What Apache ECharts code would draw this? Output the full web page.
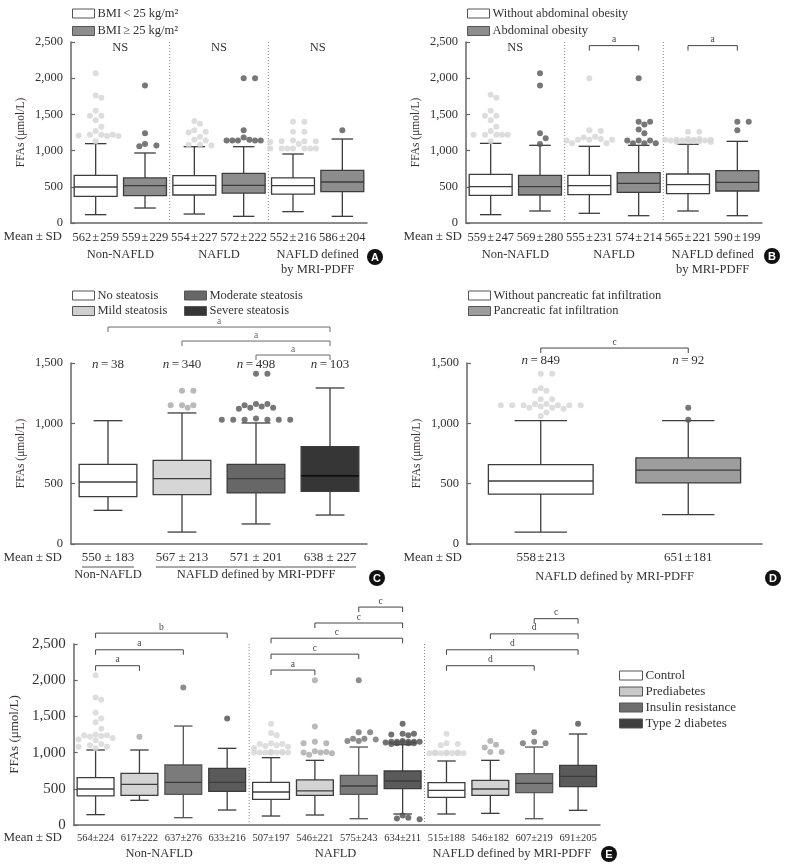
<!DOCTYPE html>
<html><head><meta charset="utf-8">
<script src="https://cdn.jsdelivr.net/npm/echarts/dist/echarts.min.js"></script>
<style>html,body{margin:0;padding:0;background:#fff}#c{width:793px;height:868px}</style>
</head><body><div id="c"></div>
<script>
// ================= DATA =================
// Box summaries: [lower whisker, Q1, median, Q3, upper whisker] per group (µmol/L)

// ---- Panel A: BMI ----
const A_groups = ['Non-NAFLD', 'NAFLD', 'NAFLD defined\nby MRI-PDFF'];
const A_names = ['BMI\u2009<\u200925 kg/m²', 'BMI\u2009≥\u200925 kg/m²'];
const A_meanSD = ['562\u200a±\u200a259', '559\u200a±\u200a229', '554\u200a±\u200a227', '572\u200a±\u200a222', '552\u200a±\u200a216', '586\u200a±\u200a204'];
const A_box_lean = [[115, 368, 497, 658, 1096], [124, 387, 520, 654, 1054], [157, 400, 516, 622, 953]];
const A_box_over = [[207, 378, 516, 622, 967], [92, 414, 520, 686, 1054], [92, 433, 566, 727, 1160]];
const A_out_lean = [
  [2070, 1760, 1730, 1550, 1480, 1480, 1420, 1330, 1270, 1220, 1220, 1220, 1210, 1200, 1200, 1130],
  [1410, 1370, 1280, 1260, 1250, 1190, 1150, 1140, 1080, 1070, 1080],
  [1400, 1400, 1260, 1260, 1140, 1130, 1130, 1130, 1120, 1090, 1030, 1030, 1030, 1030, 1030, 1030, 1030]
];
const A_out_over = [[1900, 1240, 1090, 1070, 1060], [2000, 2000, 1280, 1180, 1140, 1140, 1140, 1140, 1140, 1150], [1280]];
const A_sig = ['NS', 'NS', 'NS'];
const A_sigY = 2420;

// ---- Panel B: abdominal obesity ----
const B_groups = ['Non-NAFLD', 'NAFLD', 'NAFLD defined\nby MRI-PDFF'];
const B_names = ['Without abdominal obesity', 'Abdominal obesity'];
const B_meanSD = ['559\u200a±\u200a247', '569\u200a±\u200a280', '555\u200a±\u200a231', '574\u200a±\u200a214', '565\u200a±\u200a221', '590\u200a±\u200a199'];
const B_box_without = [[115, 382, 502, 672, 1100], [134, 391, 516, 658, 1059], [166, 405, 530, 677, 1087]];
const B_box_with = [[166, 387, 502, 658, 1073], [101, 424, 548, 695, 1073], [101, 442, 562, 723, 1128]];
const B_out_without = [
  [1770, 1730, 1550, 1480, 1480, 1420, 1330, 1270, 1220, 1220, 1220, 1220, 1220, 1130],
  [2000, 1280, 1270, 1190, 1180, 1160, 1150, 1150, 1150, 1140, 1100, 1100],
  [1260, 1260, 1160, 1150, 1150, 1150, 1140, 1140, 1140, 1130, 1130, 1130, 1120, 1120, 1150, 1160]
];
const B_out_with = [[2070, 1900, 1240, 1170, 1090], [2000, 1400, 1400, 1360, 1290, 1240, 1140, 1140, 1140, 1100, 1100, 1100], [1400, 1400, 1280]];
const B_sig = ['NS', null, null];
const B_sigY = 2420;
const B_brackets = [[2, 3, 'a', 2450], [4, 5, 'a', 2450]];

// ---- Panel C: steatosis grade ----
const C_names = ['No steatosis', 'Mild steatosis', 'Moderate steatosis', 'Severe steatosis'];
const C_meanSD = ['550 ± 183', '567 ± 213', '571 ± 201', '638 ± 227'];
const C_n = [38, 340, 498, 103];
const C_box = [[279, 392, 514, 660, 1022], [99, 409, 541, 693, 1086], [166, 423, 541, 660, 1003], [240, 436, 564, 807, 1293]];
const C_out = [[], [1270, 1270, 1150, 1150, 1150, 1130], [1410, 1410, 1160, 1150, 1140, 1130, 1120, 1130, 1160, 1030, 1030, 1030, 1030, 1030, 1030, 1040], []];
const C_groupLabels = [['Non-NAFLD', 0, 0], ['NAFLD defined by MRI-PDFF', 1, 3]];
const C_brackets = [[0, 3, 'a', 1798], [1, 3, 'a', 1682], [2, 3, 'a', 1566]];

// ---- Panel D: pancreatic fat ----
const D_names = ['Without pancreatic fat infiltration', 'Pancreatic fat infiltration'];
const D_meanSD = ['558\u200a±\u200a213', '651\u200a±\u200a181'];
const D_n = [849, 92];
const D_box = [[99, 414, 522, 657, 1022], [243, 506, 613, 713, 1022]];
const D_out = [[1410, 1410, 1290, 1270, 1270, 1200, 1200, 1160, 1160, 1150, 1150, 1150, 1150, 1150, 1150, 1140, 1130, 1130, 1120, 1090, 1060], [1130, 1030]];
const D_group = 'NAFLD defined by MRI-PDFF';
const D_brackets = [[0, 1, 'c', 1624]];

// ---- Panel E: glycemic status ----
const E_groups = ['Non-NAFLD', 'NAFLD', 'NAFLD defined by MRI-PDFF'];
const E_names = ['Control', 'Prediabetes', 'Insulin resistance', 'Type 2 diabetes'];
const E_meanSD = ['564±224', '617±222', '637±276', '633±216', '507±197', '546±221', '575±243', '634±211', '515±188', '546±182', '607±219', '691±205'];
const E_box_control = [[143, 401, 497, 654, 1036], [124, 355, 456, 589, 930], [152, 382, 479, 585, 884]];
const E_box_pre = [[341, 410, 562, 714, 1036], [138, 410, 470, 622, 893], [161, 410, 497, 617, 893]];
const E_box_ir = [[101, 424, 589, 829, 1367], [87, 424, 539, 686, 1077], [87, 447, 576, 709, 1077]];
const E_box_t2d = [[207, 465, 589, 783, 1059], [152, 502, 608, 746, 1110], [203, 530, 672, 824, 1257]];
const E_out_control = [
  [2070, 1760, 1730, 1550, 1470, 1420, 1330, 1250, 1240, 1240, 1230, 1220, 1200, 1180, 1170, 1120, 1100, 1080, 1080, 1060],
  [1400, 1270, 1240, 1130, 1120, 1120, 1100, 1090, 1080, 1060, 1010, 1010, 1000, 1000, 1000, 1000, 1000, 1000, 1000, 1000],
  [1260, 1130, 1120, 1100, 1000, 1000, 995, 990, 990, 990, 990, 990, 990, 1000]
];
const E_out_pre = [[1220], [2000, 1360, 1150, 1130, 1130, 1020, 1010, 1000, 1000, 990, 970], [1160, 1110, 1070, 1010, 1010]];
const E_out_ir = [[1900], [2000, 1280, 1280, 1190, 1190, 1180, 1160, 1160], [1280, 1130, 1130, 1150]];
const E_out_t2d = [[1470], [1400, 1260, 1260, 1250, 1240, 1160, 1150, 1150, 1150, 1150, 1150, 1140, 1140, 1130, 1130, 1130, 1120, 130, 100, 90, 80], [1400]];
const E_brackets = [
  [0, 3, 'b', 2650], [0, 2, 'a', 2420], [0, 1, 'a', 2200],
  [4, 5, 'a', 2140], [4, 6, 'c', 2360], [4, 7, 'c', 2580], [5, 7, 'c', 2790], [6, 7, 'c', 3010],
  [8, 10, 'd', 2200], [8, 11, 'd', 2420], [9, 11, 'd', 2640], [10, 11, 'c', 2850]
];

// ================= STYLE / LAYOUT =================
const FONT = "'Liberation Serif','DejaVu Serif',serif";
const TX = '#333', AX = '#666', LINE = '#3c3c3c';

const panels = [
  { letter: 'A', grid: { left: 71, top: 42, width: 296, height: 181 }, yMax: 2500, nS: 2, nG: 3,
    cats: A_meanSD, catFont: 12.5, catMargin: 8, yFont: 12.5, nameFont: 11.5, nameGap: 44, boxRatio: 0.87,
    series: [
      { name: A_names[0], fill: '#ffffff', out: '#d4d4d4', boxes: A_box_lean, outliers: A_out_lean },
      { name: A_names[1], fill: '#8d8d8d', out: '#555555', boxes: A_box_over, outliers: A_out_over }],
    sig: A_sig, sigY: A_sigY, brackets: [], brColor: '#444',
    legends: [{ left: 72, top: 7, names: A_names, fills: ['#ffffff', '#8d8d8d'], gap: 4.5, font: 12.5 }],
    groupLabels: A_groups.map((t, g) => [t, g * 2, g * 2 + 1]), groupY: 255,
    meanSD: [62, 237], letterPos: [375, 257] },
  { letter: 'B', grid: { left: 466, top: 42, width: 296, height: 181 }, yMax: 2500, nS: 2, nG: 3,
    cats: B_meanSD, catFont: 12.5, catMargin: 8, yFont: 12.5, nameFont: 11.5, nameGap: 44, boxRatio: 0.87,
    series: [
      { name: B_names[0], fill: '#ffffff', out: '#d4d4d4', boxes: B_box_without, outliers: B_out_without },
      { name: B_names[1], fill: '#8d8d8d', out: '#555555', boxes: B_box_with, outliers: B_out_with }],
    sig: B_sig, sigY: B_sigY, brackets: B_brackets, brColor: '#444',
    legends: [{ left: 467, top: 7, names: B_names, fills: ['#ffffff', '#8d8d8d'], gap: 4.5, font: 12.5 }],
    groupLabels: B_groups.map((t, g) => [t, g * 2, g * 2 + 1]), groupY: 255,
    meanSD: [462, 237], letterPos: [772, 256] },
  { letter: 'C', grid: { left: 71, top: 363, width: 296, height: 181 }, yMax: 1500, nS: 4, nG: 1,
    cats: C_meanSD, catFont: 13, catMargin: 7.5, yFont: 12.5, nameFont: 11.5, nameGap: 44, boxRatio: 0.78,
    series: [
      { name: C_names[0], fill: '#ffffff', out: '#d4d4d4', boxes: [C_box[0]], outliers: [C_out[0]] },
      { name: C_names[1], fill: '#d6d6d6', out: '#a8a8a8', boxes: [C_box[1]], outliers: [C_out[1]] },
      { name: C_names[2], fill: '#676767', out: '#555555', boxes: [C_box[2]], outliers: [C_out[2]] },
      { name: C_names[3], fill: '#363636', out: '#333333', boxes: [C_box[3]], outliers: [C_out[3]], med: '#000' }],
    counts: C_n, countY: 1483, brackets: C_brackets, brColor: '#6a6a6a',
    legends: [
      { left: 72, top: 289, names: [C_names[0], C_names[1]], fills: ['#ffffff', '#cfcfcf'], gap: 2.5, font: 12.5 },
      { left: 184, top: 289, names: [C_names[2], C_names[3]], fills: ['#676767', '#363636'], gap: 2.5, font: 12.5 }],
    groupLabels: C_groupLabels, groupY: 575, underline: 567,
    meanSD: [62, 558], letterPos: [377, 578] },
  { letter: 'D', grid: { left: 467, top: 363, width: 295, height: 181 }, yMax: 1500, nS: 2, nG: 1,
    cats: D_meanSD, catFont: 13, catMargin: 7.5, yFont: 12.5, nameFont: 11.5, nameGap: 44, boxRatio: 0.71,
    series: [
      { name: D_names[0], fill: '#ffffff', out: '#d4d4d4', boxes: [D_box[0]], outliers: [D_out[0]] },
      { name: D_names[1], fill: '#9d9d9d', out: '#555555', boxes: [D_box[1]], outliers: [D_out[1]] }],
    counts: D_n, countY: 1516, brackets: D_brackets, brColor: '#444',
    legends: [{ left: 468, top: 289, names: D_names, fills: ['#ffffff', '#9d9d9d'], gap: 2.5, font: 12.5 }],
    groupLabels: [[D_group, 0, 1]], groupY: 577,
    meanSD: [462, 558], letterPos: [773, 578] },
  { letter: 'E', grid: { left: 71, top: 644, width: 529, height: 181 }, yMax: 2500, nS: 4, nG: 3,
    cats: E_meanSD, catFont: 10.5, catMargin: 7.5, yFont: 15, nameFont: 13, nameGap: 45, boxRatio: 0.84,
    series: [
      { name: E_names[0], fill: '#ffffff', out: '#d6d6d6', boxes: E_box_control, outliers: E_out_control },
      { name: E_names[1], fill: '#d3d3d3', out: '#a8a8a8', boxes: E_box_pre, outliers: E_out_pre },
      { name: E_names[2], fill: '#7b7b7b', out: '#707070', boxes: E_box_ir, outliers: E_out_ir, line: '#555' },
      { name: E_names[3], fill: '#5a5a5a', out: '#4d4d4d', boxes: E_box_t2d, outliers: E_out_t2d }],
    brackets: E_brackets, brColor: '#444',
    legends: [{ left: 619, top: 669, names: E_names, fills: ['#ffffff', '#c9c9c9', '#6e6e6e', '#3f3f3f'], gap: 3, font: 13, w: 23, h: 9 }],
    groupLabels: E_groups.map((t, g) => [t, g * 4, g * 4 + 3]), groupY: 854,
    meanSD: [62, 838], letterPos: [609, 854] }
];

// ================= BUILD =================
const grids = [], xAxes = [], yAxes = [], series = [], legends = [], graphic = [];

// deterministic beeswarm layout of outlier dots (pixel space), limited to the category band
function swarm(values, center, pxY, pxC, d) {
  const placed = [], res = [];
  const rx = d * 1.0, ry = d * 1.1, lim = pxC * 0.5;
  values.slice().sort((a, b) => b - a).forEach(v => {
    const py = v * pxY;
    let best = 0, bestScore = -1;
    for (let t = 0; t < 80; t++) {
      const cand = t === 0 ? 0 : (t % 2 ? 1 : -1) * Math.ceil(t / 2) * d * 0.95;
      if (Math.abs(cand) > lim) break;
      let mn = Infinity;
      placed.forEach(p => { mn = Math.min(mn, ((p[0] - cand) / rx) ** 2 + ((p[1] - py) / ry) ** 2); });
      if (mn >= 1) { best = cand; bestScore = Infinity; break; }
      if (mn > bestScore) { bestScore = mn; best = cand; }
    }
    placed.push([best, py]);
    res.push([center + best / pxC, v]);
  });
  return res;
}

function boxRenderer(ratio, fill, line, med) {
  return function (params, api) {
    const x = api.value(0);
    const P = [1, 2, 3, 4, 5].map(d => api.coord([x, api.value(d)]));
    const cx = P[0][0];
    const bw = api.size([1, 0])[0] * ratio, cw = bw * 0.5;
    const [lo, q1, md, q3, hi] = P.map(p => p[1]);
    const ls = { stroke: line, lineWidth: 1.3 };
    return { type: 'group', children: [
      { type: 'line', shape: { x1: cx, y1: lo, x2: cx, y2: q1 }, style: ls },
      { type: 'line', shape: { x1: cx, y1: q3, x2: cx, y2: hi }, style: ls },
      { type: 'line', shape: { x1: cx - cw / 2, y1: lo, x2: cx + cw / 2, y2: lo }, style: ls },
      { type: 'line', shape: { x1: cx - cw / 2, y1: hi, x2: cx + cw / 2, y2: hi }, style: ls },
      { type: 'rect', shape: { x: cx - bw / 2, y: q3, width: bw, height: q1 - q3 }, style: { fill: fill, stroke: line, lineWidth: 1.3 } },
      { type: 'line', shape: { x1: cx - bw / 2, y1: md, x2: cx + bw / 2, y2: md }, style: { stroke: med, lineWidth: 1.3 } }
    ] };
  };
}

panels.forEach((p, i) => {
  const nC = p.cats.length;
  const catX = k => p.grid.left + p.grid.width * (k + 0.5) / nC;
  grids.push({ left: p.grid.left, top: p.grid.top, width: p.grid.width, height: p.grid.height });
  xAxes.push({ type: 'category', gridIndex: i, data: p.cats,
    axisLine: { onZero: false, lineStyle: { color: AX, width: 1.5 } },
    axisTick: { alignWithLabel: true, inside: true, length: 4, lineStyle: { color: AX, width: 1.2 } },
    axisLabel: { interval: 0, margin: p.catMargin, fontFamily: FONT, fontSize: p.catFont, color: TX },
    splitLine: { show: false } });
  xAxes.push({ type: 'value', gridIndex: i, min: -0.5, max: nC - 0.5, show: false,
    axisLine: { show: false, onZero: false }, axisTick: { show: false }, axisLabel: { show: false }, splitLine: { show: false } });
  yAxes.push({ type: 'value', gridIndex: i, min: 0, max: p.yMax, interval: 500,
    axisLine: { show: true, onZero: false, lineStyle: { color: AX, width: 1.5 } },
    axisTick: { show: true, inside: true, length: 4, lineStyle: { color: AX, width: 1.2 } },
    splitLine: { show: false },
    axisLabel: { fontFamily: FONT, fontSize: p.yFont, color: TX, margin: 8, formatter: v => v.toLocaleString('en-US') },
    name: 'FFAs (μmol/L)', nameLocation: 'middle', nameGap: p.nameGap,
    nameTextStyle: { fontFamily: FONT, fontSize: p.nameFont, color: '#3a3030' } });
  const cxi = 2 * i, vxi = 2 * i + 1;
  const pxY = p.grid.height / p.yMax, pxC = p.grid.width / nC;

  p.series.forEach((s, si) => {
    series.push({ type: 'custom', name: s.name, xAxisIndex: cxi, yAxisIndex: i, itemStyle: { color: s.fill },
      encode: { x: 0, y: [1, 2, 3, 4, 5] }, z: 3,
      data: s.boxes.map((b, g) => [g * p.nS + si].concat(b)),
      renderItem: boxRenderer(p.boxRatio, s.fill, s.line || LINE, s.med || LINE) });
    let pts = [];
    s.outliers.forEach((vals, g) => { pts = pts.concat(swarm(vals, g * p.nS + si, pxY, pxC, 6)); });
    if (pts.length) series.push({ type: 'scatter', name: s.name + ' outliers', xAxisIndex: vxi, yAxisIndex: i,
      data: pts, symbolSize: 6, itemStyle: { color: s.out }, z: 4 });
  });

  // dotted separators between groups
  const seps = [];
  for (let g = 1; g < p.nG; g++) seps.push([g * p.nS - 0.5]);
  if (seps.length) series.push({ type: 'custom', name: 'sep' + p.letter, xAxisIndex: vxi, yAxisIndex: i, silent: true, data: seps,
    renderItem: (params, api) => {
      const a = api.coord([api.value(0), 0]), b = api.coord([api.value(0), p.yMax]);
      return { type: 'line', shape: { x1: a[0], y1: a[1], x2: b[0], y2: b[1] }, style: { stroke: '#8a8a8a', lineWidth: 1, lineDash: [1, 2] } };
    } });

  // significance text (NS)
  if (p.sig) {
    const d = [], txt = [];
    p.sig.forEach((t, g) => { if (t) { d.push([g * p.nS + (p.nS - 1) / 2, p.sigY]); txt.push(t); } });
    series.push({ type: 'custom', name: 'sig' + p.letter, xAxisIndex: vxi, yAxisIndex: i, silent: true, data: d,
      renderItem: (params, api) => {
        const c = api.coord([api.value(0), api.value(1)]);
        return { type: 'text', x: c[0], y: c[1], style: { text: txt[params.dataIndex], font: '12.5px ' + FONT, fill: TX, align: 'center', verticalAlign: 'middle' } };
      } });
  }
  // brackets
  if (p.brackets && p.brackets.length) {
    series.push({ type: 'custom', name: 'br' + p.letter, xAxisIndex: vxi, yAxisIndex: i, silent: true,
      data: p.brackets.map(b => [b[0], b[1], b[3]]),
      renderItem: (params, api) => {
        const a = api.coord([api.value(0), api.value(2)]), b = api.coord([api.value(1), api.value(2)]);
        const tk = 5;
        return { type: 'group', children: [
          { type: 'polyline', shape: { points: [[a[0], a[1] + tk], [a[0], a[1]], [b[0], a[1]], [b[0], a[1] + tk]] }, style: { stroke: p.brColor, lineWidth: 1, fill: null } },
          { type: 'text', x: (a[0] + b[0]) / 2, y: a[1] - 1, style: { text: p.brackets[params.dataIndex][2], font: '9.5px ' + FONT, fill: p.brColor, align: 'center', verticalAlign: 'bottom' } }
        ] };
      } });
  }
  // n counts
  if (p.counts) {
    series.push({ type: 'custom', name: 'n' + p.letter, xAxisIndex: cxi, yAxisIndex: i, silent: true,
      data: p.counts.map((n, k) => [k, p.countY]),
      renderItem: (params, api) => {
        const c = api.coord([api.value(0), api.value(1)]);
        return { type: 'text', x: c[0], y: c[1], style: { text: '{i|n}\u2009=\u2009' + p.counts[params.dataIndex],
          rich: { i: { fontStyle: 'italic', fontFamily: FONT, fontSize: 13, fill: TX } },
          font: '13px ' + FONT, fill: TX, align: 'center', verticalAlign: 'middle' } };
      } });
  }
  // legends
  p.legends.forEach(L => {
    legends.push({ left: L.left, top: L.top, orient: 'vertical', icon: 'rect', itemWidth: L.w || 22, itemHeight: L.h || 9,
      itemGap: L.gap, selectedMode: false, padding: 0,
      textStyle: { fontFamily: FONT, fontSize: L.font, color: TX, padding: [0, 0, 0, -2] },
      data: L.names.map((n, k) => ({ name: n, itemStyle: { color: L.fills[k], borderColor: '#555', borderWidth: 1 } })) });
  });
  // group labels
  p.groupLabels.forEach(gl => {
    const x = (catX(gl[1]) + catX(gl[2])) / 2;
    const lines = gl[0].split('\n');
    lines.forEach((ln, li) => graphic.push({ type: 'text', x: x, y: p.groupY + li * 15,
      style: { text: ln, font: '12.5px ' + FONT, fill: TX, align: 'center', verticalAlign: 'middle', textAlign: 'center', textVerticalAlign: 'middle' } }));
    if (p.underline) graphic.push({ type: 'line', shape: { x1: catX(gl[1]) - 26, y1: p.underline, x2: catX(gl[2]) + 26, y2: p.underline }, style: { stroke: '#555', lineWidth: 1 } });
  });
  // Mean ± SD row title
  graphic.push({ type: 'text', x: p.meanSD[0], y: p.meanSD[1],
    style: { text: 'Mean\u2009±\u2009SD', font: '13px ' + FONT, fill: TX, align: 'right', verticalAlign: 'middle', textAlign: 'right', textVerticalAlign: 'middle' } });
  // panel letter
  graphic.push({ type: 'circle', shape: { cx: p.letterPos[0], cy: p.letterPos[1], r: 8 }, style: { fill: '#111' } });
  graphic.push({ type: 'text', x: p.letterPos[0], y: p.letterPos[1] + 0.5,
    style: { text: p.letter, font: "bold 11px 'Liberation Sans',Arial,sans-serif", fill: '#fff', align: 'center', verticalAlign: 'middle', textAlign: 'center', textVerticalAlign: 'middle' } });
});

const chart = echarts.init(document.getElementById('c'), null, { renderer: 'canvas' });
chart.setOption({
  animation: false,
  backgroundColor: '#fff',
  textStyle: { fontFamily: FONT },
  grid: grids, xAxis: xAxes, yAxis: yAxes, legend: legends, series: series, graphic: graphic
});
</script></body></html>
